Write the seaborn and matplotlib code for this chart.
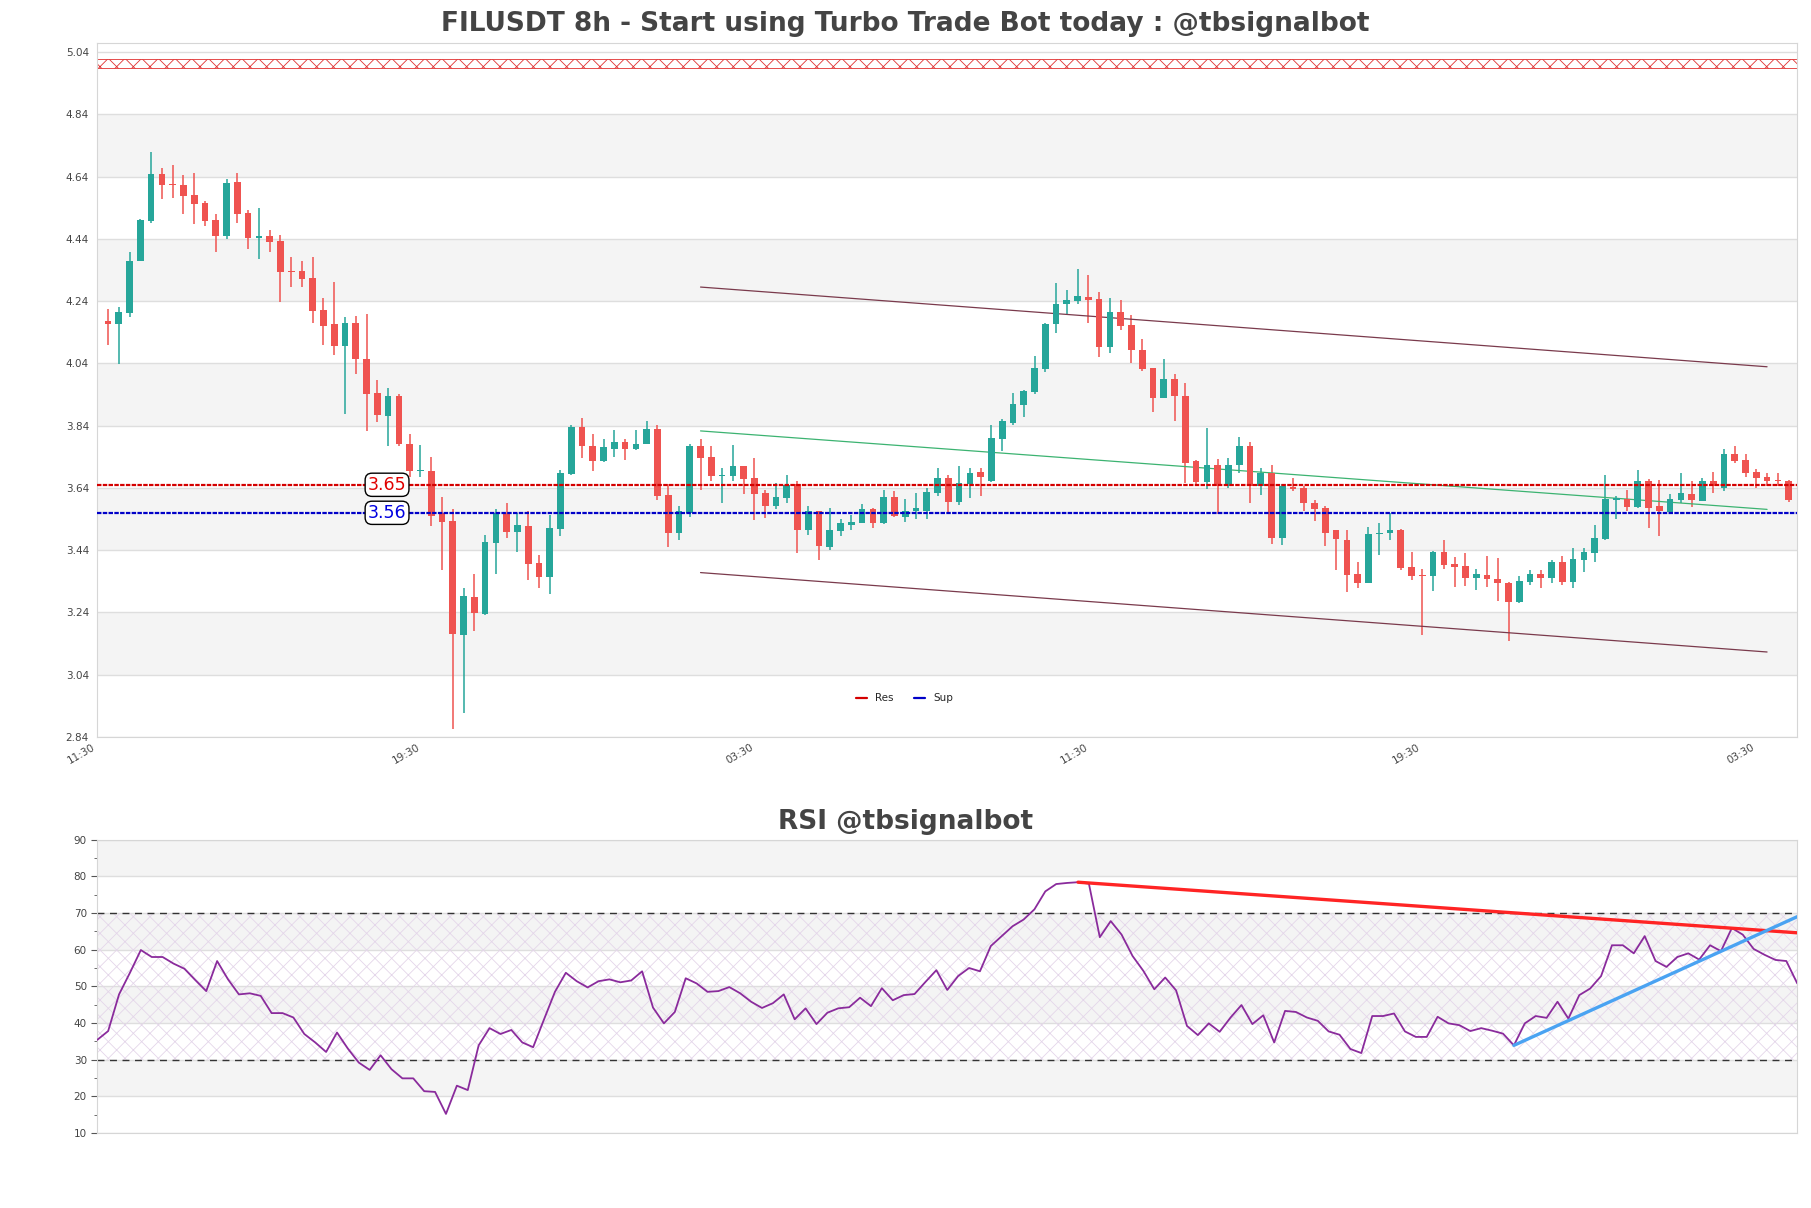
import numpy as np
import pandas as pd
import matplotlib
matplotlib.use('Agg')
import matplotlib.pyplot as plt
import seaborn as sns

# OHLC (15-min candles)
opens = [4.177, 4.165, 4.202, 4.370, 4.496, 4.648, 4.614, 4.612, 4.580, 4.554,
         4.500, 4.450, 4.622, 4.522, 4.444, 4.449, 4.433, 4.337, 4.337, 4.313,
         4.211, 4.165, 4.097, 4.170, 4.054, 3.945, 3.872, 3.935, 3.780, 3.693,
         3.693, 3.558, 3.533, 3.168, 3.290, 3.236, 3.464, 3.558, 3.499, 3.517,
         3.399, 3.355, 3.509, 3.686, 3.837, 3.774, 3.727, 3.765, 3.787, 3.765,
         3.782, 3.829, 3.617, 3.494, 3.559, 3.774, 3.740, 3.678, 3.678, 3.709,
         3.672, 3.623, 3.583, 3.608, 3.651, 3.506, 3.565, 3.451, 3.501, 3.522,
         3.528, 3.571, 3.528, 3.610, 3.547, 3.565, 3.567, 3.624, 3.673, 3.596,
         3.651, 3.690, 3.663, 3.798, 3.850, 3.907, 3.948, 4.022, 4.165, 4.229,
         4.241, 4.253, 4.247, 4.093, 4.206, 4.163, 4.083, 4.025, 3.930, 3.990,
         3.934, 3.725, 3.660, 3.715, 3.647, 3.712, 3.776, 3.645, 3.688, 3.479,
         3.642, 3.641, 3.592, 3.574, 3.504, 3.473, 3.362, 3.335, 3.492, 3.494,
         3.506, 3.387, 3.359, 3.356, 3.434, 3.395, 3.389, 3.350, 3.360, 3.347,
         3.335, 3.274, 3.338, 3.365, 3.350, 3.402, 3.338, 3.409, 3.432, 3.475,
         3.602, 3.605, 3.580, 3.663, 3.581, 3.563, 3.602, 3.620, 3.599, 3.663,
         3.641, 3.749, 3.731, 3.692, 3.676, 3.666, 3.663]
highs = [4.214, 4.220, 4.397, 4.505, 4.720, 4.667, 4.677, 4.646, 4.651, 4.560,
         4.521, 4.632, 4.650, 4.531, 4.538, 4.469, 4.452, 4.381, 4.369, 4.381,
         4.249, 4.302, 4.188, 4.192, 4.200, 3.987, 3.961, 3.940, 3.813, 3.778,
         3.740, 3.610, 3.571, 3.319, 3.362, 3.489, 3.571, 3.592, 3.559, 3.565,
         3.424, 3.553, 3.697, 3.842, 3.864, 3.813, 3.798, 3.826, 3.797, 3.826,
         3.854, 3.842, 3.654, 3.583, 3.780, 3.796, 3.774, 3.704, 3.778, 3.710,
         3.735, 3.633, 3.657, 3.682, 3.661, 3.583, 3.565, 3.577, 3.540, 3.553,
         3.587, 3.575, 3.633, 3.629, 3.604, 3.624, 3.639, 3.704, 3.681, 3.710,
         3.704, 3.704, 3.842, 3.860, 3.946, 3.956, 4.065, 4.170, 4.297, 4.274,
         4.343, 4.324, 4.268, 4.251, 4.243, 4.194, 4.118, 4.025, 4.054, 4.005,
         3.977, 3.730, 3.833, 3.733, 3.737, 3.805, 3.789, 3.704, 3.715, 3.651,
         3.672, 3.645, 3.602, 3.583, 3.504, 3.504, 3.402, 3.516, 3.528, 3.559,
         3.507, 3.435, 3.381, 3.436, 3.473, 3.418, 3.432, 3.381, 3.421, 3.414,
         3.338, 3.356, 3.375, 3.377, 3.409, 3.420, 3.448, 3.448, 3.522, 3.682,
         3.614, 3.633, 3.698, 3.669, 3.666, 3.620, 3.688, 3.663, 3.673, 3.690,
         3.764, 3.774, 3.749, 3.700, 3.688, 3.688, 3.666]
lows = [4.100, 4.038, 4.189, 4.370, 4.491, 4.569, 4.571, 4.521, 4.489, 4.482,
        4.398, 4.440, 4.491, 4.408, 4.376, 4.396, 4.238, 4.285, 4.285, 4.171,
        4.100, 4.068, 3.878, 4.005, 3.823, 3.853, 3.773, 3.774, 3.676, 3.676,
        3.518, 3.375, 2.867, 2.917, 3.182, 3.233, 3.365, 3.479, 3.434, 3.344,
        3.319, 3.300, 3.485, 3.682, 3.737, 3.694, 3.722, 3.740, 3.731, 3.762,
        3.780, 3.602, 3.451, 3.473, 3.547, 3.633, 3.663, 3.592, 3.663, 3.620,
        3.538, 3.543, 3.571, 3.592, 3.432, 3.489, 3.408, 3.442, 3.485, 3.506,
        3.526, 3.511, 3.524, 3.547, 3.531, 3.540, 3.540, 3.614, 3.555, 3.586,
        3.608, 3.614, 3.660, 3.759, 3.842, 3.869, 3.943, 4.013, 4.136, 4.198,
        4.229, 4.171, 4.059, 4.072, 4.147, 4.041, 4.016, 3.884, 3.930, 3.856,
        3.655, 3.654, 3.636, 3.556, 3.639, 3.688, 3.592, 3.618, 3.461, 3.458,
        3.629, 3.565, 3.534, 3.454, 3.375, 3.307, 3.317, 3.335, 3.426, 3.473,
        3.377, 3.344, 3.166, 3.309, 3.378, 3.323, 3.325, 3.313, 3.322, 3.276,
        3.147, 3.270, 3.329, 3.319, 3.334, 3.329, 3.319, 3.371, 3.403, 3.473,
        3.540, 3.565, 3.577, 3.512, 3.485, 3.559, 3.592, 3.580, 3.597, 3.624,
        3.629, 3.719, 3.676, 3.639, 3.645, 3.645, 3.594]
closes = [4.165, 4.205, 4.370, 4.500, 4.648, 4.613, 4.612, 4.579, 4.553, 4.496,
          4.450, 4.619, 4.521, 4.442, 4.447, 4.430, 4.334, 4.334, 4.312, 4.209,
          4.161, 4.097, 4.170, 4.055, 3.943, 3.875, 3.935, 3.780, 3.693, 3.695,
          3.550, 3.531, 3.172, 3.292, 3.238, 3.465, 3.558, 3.499, 3.520, 3.397,
          3.355, 3.511, 3.688, 3.837, 3.773, 3.727, 3.771, 3.787, 3.765, 3.780,
          3.829, 3.614, 3.494, 3.565, 3.774, 3.737, 3.678, 3.683, 3.709, 3.669,
          3.620, 3.583, 3.610, 3.649, 3.506, 3.565, 3.454, 3.504, 3.528, 3.532,
          3.571, 3.528, 3.610, 3.549, 3.567, 3.574, 3.626, 3.673, 3.596, 3.655,
          3.688, 3.676, 3.801, 3.856, 3.909, 3.952, 4.025, 4.167, 4.231, 4.243,
          4.256, 4.243, 4.093, 4.206, 4.161, 4.083, 4.022, 3.930, 3.990, 3.934,
          3.721, 3.660, 3.715, 3.647, 3.715, 3.774, 3.647, 3.688, 3.479, 3.645,
          3.636, 3.590, 3.571, 3.495, 3.475, 3.360, 3.335, 3.491, 3.496, 3.506,
          3.383, 3.356, 3.356, 3.434, 3.393, 3.387, 3.352, 3.365, 3.346, 3.334,
          3.274, 3.340, 3.365, 3.352, 3.402, 3.338, 3.411, 3.434, 3.479, 3.605,
          3.605, 3.580, 3.663, 3.577, 3.565, 3.605, 3.623, 3.602, 3.663, 3.645,
          3.749, 3.727, 3.688, 3.673, 3.663, 3.662, 3.602]

rsi = [35.4, 37.8, 47.8, 53.7, 59.9, 58.0, 58.0, 56.2, 54.8, 51.7,
       48.7, 56.9, 51.9, 47.8, 48.1, 47.4, 42.7, 42.7, 41.5, 37.0,
       34.7, 32.1, 37.4, 33.0, 29.2, 27.2, 31.2, 27.4, 24.9, 24.9,
       21.4, 21.2, 15.2, 22.9, 21.7, 33.9, 38.6, 37.0, 38.1, 34.7,
       33.4, 41.0, 48.5, 53.7, 51.4, 49.7, 51.4, 51.9, 51.1, 51.6,
       54.1, 44.2, 39.9, 43.0, 52.2, 50.8, 48.5, 48.7, 49.8, 48.1,
       45.8, 44.1, 45.4, 47.8, 41.0, 44.0, 39.7, 42.8, 44.0, 44.3,
       46.9, 44.6, 49.5, 46.2, 47.6, 47.9, 51.2, 54.4, 49.0, 52.8,
       55.0, 54.1, 61.0, 63.7, 66.4, 68.2, 71.0, 75.9, 77.9, 78.2,
       78.4, 78.0, 63.4, 67.8, 64.1, 58.3, 54.2, 49.2, 52.4, 48.9,
       39.2, 36.7, 39.9, 37.6, 41.5, 44.9, 39.7, 42.1, 34.7, 43.3,
       43.0, 41.5, 40.6, 37.7, 36.8, 32.9, 31.8, 41.9, 41.9, 42.6,
       37.7, 36.2, 36.2, 41.7, 39.9, 39.4, 37.8, 38.6, 37.9, 37.1,
       33.9, 39.9, 41.9, 41.4, 45.8, 41.2, 47.6, 49.4, 52.8, 61.2,
       61.2, 59.0, 63.7, 56.9, 55.3, 58.0, 59.0, 57.3, 61.2, 59.6,
       65.9, 64.1, 60.2, 58.6, 57.2, 56.9, 50.8]

resistance = 3.65
support = 3.56
# channel lines: (start index, end index), (start price, end price)
chan_x = [55, 154]
chan_upper = [4.285, 4.029]
chan_mid = [3.823, 3.571]
chan_lower = [3.368, 3.113]
# rsi trend lines
rsi_res_x = [90, 156]
rsi_res_y = [78.4, 64.6]
rsi_sup_x = [130, 156]
rsi_sup_y = [33.9, 69.0]

tick_pos = [-1, 29.1, 60.05, 91.1, 121.95, 153]
tick_labels = ['11:30', '19:30', '03:30', '11:30', '19:30', '03:30']

df = pd.DataFrame({'open': opens, 'high': highs, 'low': lows, 'close': closes})
df['idx'] = np.arange(len(df))
df['up'] = df['close'] >= df['open']

sns.set_style('white')
plt.rcParams['font.family'] = ['DejaVu Sans']
plt.rcParams['hatch.linewidth'] = 0.6

GREEN = '#26a69a'
RED = '#ef5350'
TXT = '#444444'

fig = plt.figure(figsize=(18.11, 12.08), dpi=100)
ax_rect = [0.0537, 0.3899, 0.9387, 0.5743]
ax = fig.add_axes(ax_rect)
ax2 = fig.add_axes([0.0537, 0.0621, 0.9387, 0.2428])
title_x = (0.5 - ax_rect[0]) / ax_rect[2]   # titles centred on the figure

# ---- price chart ----
ymin, ymax = 2.84, 5.068
levels = np.round(np.arange(2.84, 5.05, 0.2), 2)
for k, lv in enumerate(levels[:-1]):
    if k % 2 == 1:
        ax.axhspan(lv, lv + 0.2, color='#f4f4f4', zorder=0, lw=0)
for lv in levels:
    ax.axhline(lv, color='#dedede', lw=1, zorder=0.5)

colors = np.where(df['up'], GREEN, RED)
body_lo = np.minimum(df['open'], df['close'])
body_h = np.maximum(np.abs(df['close'] - df['open']), 0.004)
ax.vlines(df['idx'], df['low'], df['high'], colors=colors, lw=1.1, zorder=2)
ax.bar(df['idx'], body_h, bottom=body_lo, width=0.62, color=colors, zorder=3, lw=0)

ax.plot(chan_x, chan_upper, color='#7a3a4c', lw=0.9, zorder=2.5)
ax.plot(chan_x, chan_lower, color='#7a3a4c', lw=0.9, zorder=2.5)
ax.plot(chan_x, chan_mid, color='#3cb371', lw=0.9, zorder=2.5)

ax.axhline(resistance, color='#d40000', lw=1.6, ls=(0, (2, 0.6)), zorder=4)
ax.axhline(support, color='#0000c8', lw=1.6, ls=(0, (2, 0.6)), zorder=4)
ax.plot([], [], color='#d40000', lw=1.6, label='Res')
ax.plot([], [], color='#0000c8', lw=1.6, label='Sup')
for val, col in [(resistance, '#e00000'), (support, '#0000e0')]:
    ax.text(25.9, val, f'{val:.2f}', color=col, fontsize=12.5, ha='center', va='center', zorder=6,
            bbox=dict(boxstyle='round,pad=0.15,rounding_size=0.4', fc='white', ec='black', lw=1))

ax.fill_between([-1, 156.8], 4.9895, 5.0165, facecolor='none', edgecolor='#e03030',
                hatch='xx', lw=0.6, zorder=1)

ax.set_xlim(-1.0, 156.8)
ax.set_ylim(ymin, ymax)
ax.set_yticks(levels)
ax.set_yticklabels([f'{v:.2f}' for v in levels])
ax.set_xticks(tick_pos)
ax.set_xticklabels(tick_labels, rotation=30, ha='right')
ax.tick_params(axis='y', length=0, labelsize=7.5, labelcolor=TXT, pad=6)
ax.tick_params(axis='x', length=3, color='#555555', labelsize=7.5, labelcolor=TXT, pad=1)
for s in ax.spines.values():
    s.set_color('#d6d6d6')
ax.set_title('FILUSDT 8h - Start using Turbo Trade Bot today : @tbsignalbot',
             fontsize=19, fontweight='bold', color=TXT, pad=9, x=title_x)
leg = ax.legend(loc='lower center', bbox_to_anchor=(0.475, 0.035), ncol=2, frameon=False,
                fontsize=7.5, handlelength=1.0, columnspacing=2.0)

# ---- RSI chart ----
for lo in [20, 40, 60, 80]:
    ax2.axhspan(lo, lo + 10, color='#f4f4f4', zorder=0, lw=0)
for lv in range(10, 91, 10):
    ax2.axhline(lv, color='#dedede', lw=1, zorder=0.5)
ax2.fill_between([0, 156], 30, 70, facecolor='none', edgecolor='#e4d6ea', hatch='xx', lw=0, zorder=0.8)
ax2.axhline(70, color='#333333', lw=1, ls=(0, (5, 4)), zorder=2)
ax2.axhline(30, color='#333333', lw=1, ls=(0, (5, 4)), zorder=2)

rsi_df = pd.DataFrame({'idx': np.arange(len(rsi)), 'rsi': rsi})
sns.lineplot(data=rsi_df, x='idx', y='rsi', ax=ax2, color='#8a2b9c', lw=1.3, zorder=3)
ax2.plot(rsi_res_x, rsi_res_y, color='#ff2424', lw=2.4, zorder=4)
ax2.plot(rsi_sup_x, rsi_sup_y, color='#4aa3f2', lw=2.4, zorder=4)

ax2.set_xlim(0, 156)
ax2.set_ylim(10, 90)
ax2.set_yticks(range(10, 91, 10))
ax2.set_yticks(range(15, 90, 10), minor=True)
ax2.set_xticks([])
ax2.set_xlabel('')
ax2.set_ylabel('')
ax2.tick_params(axis='y', which='major', length=4, color='#555555', labelsize=7.5, labelcolor=TXT, left=True)
ax2.tick_params(axis='y', which='minor', length=2.5, color='#555555', left=True)
for s in ax2.spines.values():
    s.set_color('#d6d6d6')
ax2.set_title('RSI @tbsignalbot', fontsize=19, fontweight='bold', color=TXT, pad=8, x=title_x)

fig.savefig('out.png', dpi=100)
